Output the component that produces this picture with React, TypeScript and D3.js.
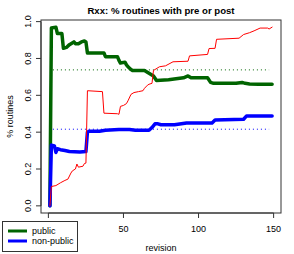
import React from 'react';
import * as d3 from 'd3';

// revision numbers and share of routines
const pubRev = [1, 2, 5, 6, 9, 10, 12, 14, 17, 18, 20, 22, 24, 25, 26, 37, 38, 46, 47, 48, 51, 52, 53, 55, 56, 64, 67, 70, 72, 80, 85, 90, 93, 95, 106, 108, 110, 112, 125, 129, 131, 134, 140, 149];
const pubVal = [0, 0.965, 0.97, 0.935, 0.935, 0.855, 0.86, 0.875, 0.89, 0.88, 0.88, 0.89, 0.895, 0.89, 0.83, 0.83, 0.81, 0.81, 0.79, 0.775, 0.78, 0.765, 0.755, 0.74, 0.735, 0.735, 0.72, 0.705, 0.68, 0.685, 0.69, 0.695, 0.705, 0.695, 0.695, 0.67, 0.665, 0.665, 0.665, 0.67, 0.665, 0.662, 0.66, 0.66];

const npRev = [1, 2, 4, 5, 6, 8, 11, 14, 21, 25, 26, 27, 34, 38, 47, 54, 58, 67, 69, 71, 73, 75, 84, 92, 109, 111, 130, 132, 149];
const npVal = [0, 0.33, 0.325, 0.29, 0.31, 0.305, 0.3, 0.295, 0.292, 0.295, 0.4, 0.405, 0.405, 0.41, 0.415, 0.415, 0.41, 0.41, 0.425, 0.445, 0.445, 0.44, 0.44, 0.45, 0.45, 0.466, 0.47, 0.488, 0.488];

const redRev = [1, 2, 5, 8, 11, 13, 15, 16, 18, 19, 20, 23, 24, 25, 26, 36, 37, 46, 47, 48, 50, 52, 53, 55, 57, 60, 63, 64, 66, 67, 69, 70, 74, 78, 83, 93, 94, 106, 107, 111, 112, 127, 130, 134, 137, 141, 146, 147, 149];
const redVal = [0, 0.105, 0.11, 0.125, 0.138, 0.145, 0.178, 0.19, 0.2, 0.227, 0.21, 0.215, 0.23, 0.232, 0.625, 0.62, 0.503, 0.5, 0.497, 0.54, 0.545, 0.555, 0.57, 0.605, 0.615, 0.62, 0.625, 0.638, 0.655, 0.66, 0.665, 0.735, 0.755, 0.76, 0.782, 0.785, 0.814, 0.822, 0.854, 0.855, 0.904, 0.91, 0.93, 0.94, 0.95, 0.965, 0.965, 0.96, 0.97];

// reference levels (dotted)
const refLevels = [0.738, 0.416];
const refColors = ['#006400', '#0000ff'];
const refSpan = [3, 147];

const xTicks = [0, 50, 100, 150];
// the "0" label sits under the legend in the original, so it is not shown
const xTickLabels = ['', '50', '100', '150'];
const yTicks = [0, 0.2, 0.4, 0.6, 0.8, 1.0];

const legendLabels = ['public', 'non-public'];
const legendColors = ['#006400', '#0000ff'];

const width = 294;
const height = 254;
const font = '"Liberation Sans", Arial, Helvetica, sans-serif';

type Pt = { x: number; y: number };
const zip = (xs: number[], ys: number[]): Pt[] => xs.map((x, i) => ({ x, y: ys[i] }));

const App: React.FC = () => {
  const left = 41, right = 281, top = 20, bottom = 213;

  // R style 4% padding around data range
  const xScale = d3.scaleLinear().domain([1 - 148 * 0.04, 149 + 148 * 0.04]).range([left, right]);
  const yScale = d3.scaleLinear().domain([0 - 0.97 * 0.04, 0.97 + 0.97 * 0.04]).range([bottom, top]);

  const line = d3.line<Pt>()
    .x(d => xScale(d.x))
    .y(d => yScale(d.y));

  const series = [
    { data: zip(pubRev, pubVal), color: '#006400', w: 3.5 },
    { data: zip(npRev, npVal), color: '#0000ff', w: 3.5 },
    { data: zip(redRev, redVal), color: '#ff0000', w: 1 },
  ];

  return (
    <div style={{ position: 'absolute', left: 0, top: 0 }}>
      <svg width={width} height={height} style={{ display: 'block', background: '#fff' }} fontFamily={font}>
        <rect x={0} y={0} width={width} height={height} fill="#fff" />

        {/* title */}
        <text x={(left + right) / 2} y={14} textAnchor="middle" fontSize={9.6} fontWeight="bold">
          Rxx: % routines with pre or post
        </text>

        {/* dotted reference lines */}
        {refLevels.map((v, i) => (
          <line key={'ref' + i}
            x1={xScale(refSpan[0])} x2={xScale(refSpan[1])}
            y1={yScale(v)} y2={yScale(v)}
            stroke={refColors[i]} strokeWidth={1} strokeDasharray="1,3" />
        ))}

        {/* series */}
        {series.map((s, i) => (
          <path key={'s' + i} d={line(s.data) || ''} fill="none" stroke={s.color}
            strokeWidth={s.w} strokeLinejoin="round" strokeLinecap="round" />
        ))}

        {/* box */}
        <rect x={left} y={top} width={right - left} height={bottom - top} fill="none" stroke="#333" strokeWidth={1} />

        {/* x axis */}
        <line x1={xScale(xTicks[0])} x2={xScale(xTicks[xTicks.length - 1])} y1={bottom} y2={bottom} stroke="#333" />
        {xTicks.map((t, i) => (
          <g key={'xt' + t}>
            <line x1={xScale(t)} x2={xScale(t)} y1={bottom} y2={bottom + 5} stroke="#333" />
            {xTickLabels[i] && (
              <text x={xScale(t)} y={bottom + 19} textAnchor="middle" fontSize={9}>{xTickLabels[i]}</text>
            )}
          </g>
        ))}
        <text x={(left + right) / 2} y={251} textAnchor="middle" fontSize={9}>revision</text>

        {/* y axis */}
        <line x1={left} x2={left} y1={yScale(yTicks[0])} y2={yScale(yTicks[yTicks.length - 1])} stroke="#333" />
        {yTicks.map(t => (
          <g key={'yt' + t}>
            <line x1={left} x2={left - 5} y1={yScale(t)} y2={yScale(t)} stroke="#333" />
            <text transform={`translate(${left - 10},${yScale(t)}) rotate(-90)`} textAnchor="middle" fontSize={9}>
              {t.toFixed(1)}
            </text>
          </g>
        ))}
        <text transform={`translate(13,${(top + bottom) / 2}) rotate(-90)`} textAnchor="middle" fontSize={9}>
          % routines
        </text>

        {/* legend */}
        <rect x={2.5} y={221.5} width={75} height={30} fill="#fff" stroke="#333" />
        {legendLabels.map((lab, i) => (
          <g key={'lg' + i}>
            <line x1={8} x2={27} y1={231 + i * 10} y2={231 + i * 10} stroke={legendColors[i]} strokeWidth={3} />
            <text x={32} y={234.3 + i * 10} fontSize={9}>{lab}</text>
          </g>
        ))}
      </svg>
    </div>
  );
};

export default App;
